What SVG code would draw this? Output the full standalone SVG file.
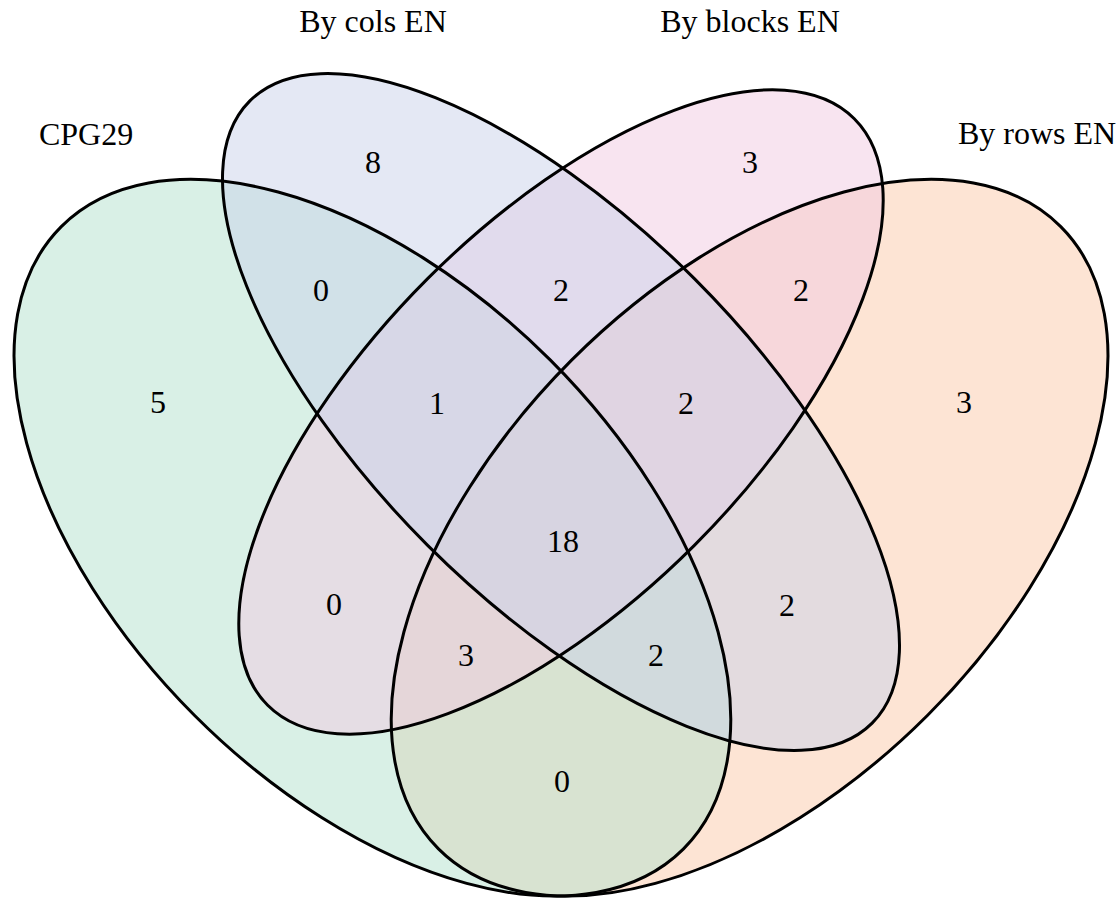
<svg xmlns="http://www.w3.org/2000/svg" xmlns:xlink="http://www.w3.org/1999/xlink" width="1118" height="900" viewBox="0 0 1118 900">
  <style>
    .fill { fill-opacity: 0.5; stroke: none; }
    .outline { fill: none; stroke: #000; stroke-width: 3; }
    text { font-family: "Liberation Serif", "Times New Roman", serif; font-size: 32px; fill: #000; text-anchor: middle; }
  </style>
  <defs>
    <ellipse id="eA" cx="372.4" cy="537.7" rx="440" ry="251.4" transform="rotate(45 372.4 537.7)"/>
    <ellipse id="eB" cx="561" cy="412" rx="440" ry="188.6" transform="rotate(45 561 412)"/>
    <ellipse id="eC" cx="561" cy="412" rx="414.8" ry="188.6" transform="rotate(-45 561 412)"/>
    <ellipse id="eD" cx="749.6" cy="537.7" rx="440" ry="251.4" transform="rotate(-45 749.6 537.7)"/>
  </defs>
  <rect width="1118" height="900" fill="#ffffff"/>
  <g id="set-by-rows-en">
    <use xlink:href="#eD" href="#eD" class="fill" fill="#FBC9A9"/>
    <text x="1037" y="144">By rows EN</text>
  </g>
  <g id="set-cpg29">
    <use xlink:href="#eA" href="#eA" class="fill" fill="#B3E1CD"/>
    <text x="86" y="145">CPG29</text>
  </g>
  <g id="set-by-blocks-en">
    <use xlink:href="#eC" href="#eC" class="fill" fill="#F1C9E1"/>
    <text x="750" y="32">By blocks EN</text>
  </g>
  <g id="set-by-cols-en">
    <use xlink:href="#eB" href="#eB" class="fill" fill="#C9D1E9"/>
    <text x="373" y="32">By cols EN</text>
  </g>
  <g id="outlines">
    <use xlink:href="#eA" href="#eA" class="outline"/>
    <use xlink:href="#eB" href="#eB" class="outline"/>
    <use xlink:href="#eC" href="#eC" class="outline"/>
    <use xlink:href="#eD" href="#eD" class="outline"/>
  </g>
  <g id="counts">
    <text x="373" y="173">8</text>
    <text x="750" y="173">3</text>
    <text x="321" y="301">0</text>
    <text x="561" y="301">2</text>
    <text x="801" y="301">2</text>
    <text x="158" y="413">5</text>
    <text x="437" y="414">1</text>
    <text x="686" y="414">2</text>
    <text x="964" y="413">3</text>
    <text x="563" y="552">18</text>
    <text x="334" y="615">0</text>
    <text x="787" y="616">2</text>
    <text x="466" y="666">3</text>
    <text x="656" y="666">2</text>
    <text x="562" y="792">0</text>
  </g>
</svg>
